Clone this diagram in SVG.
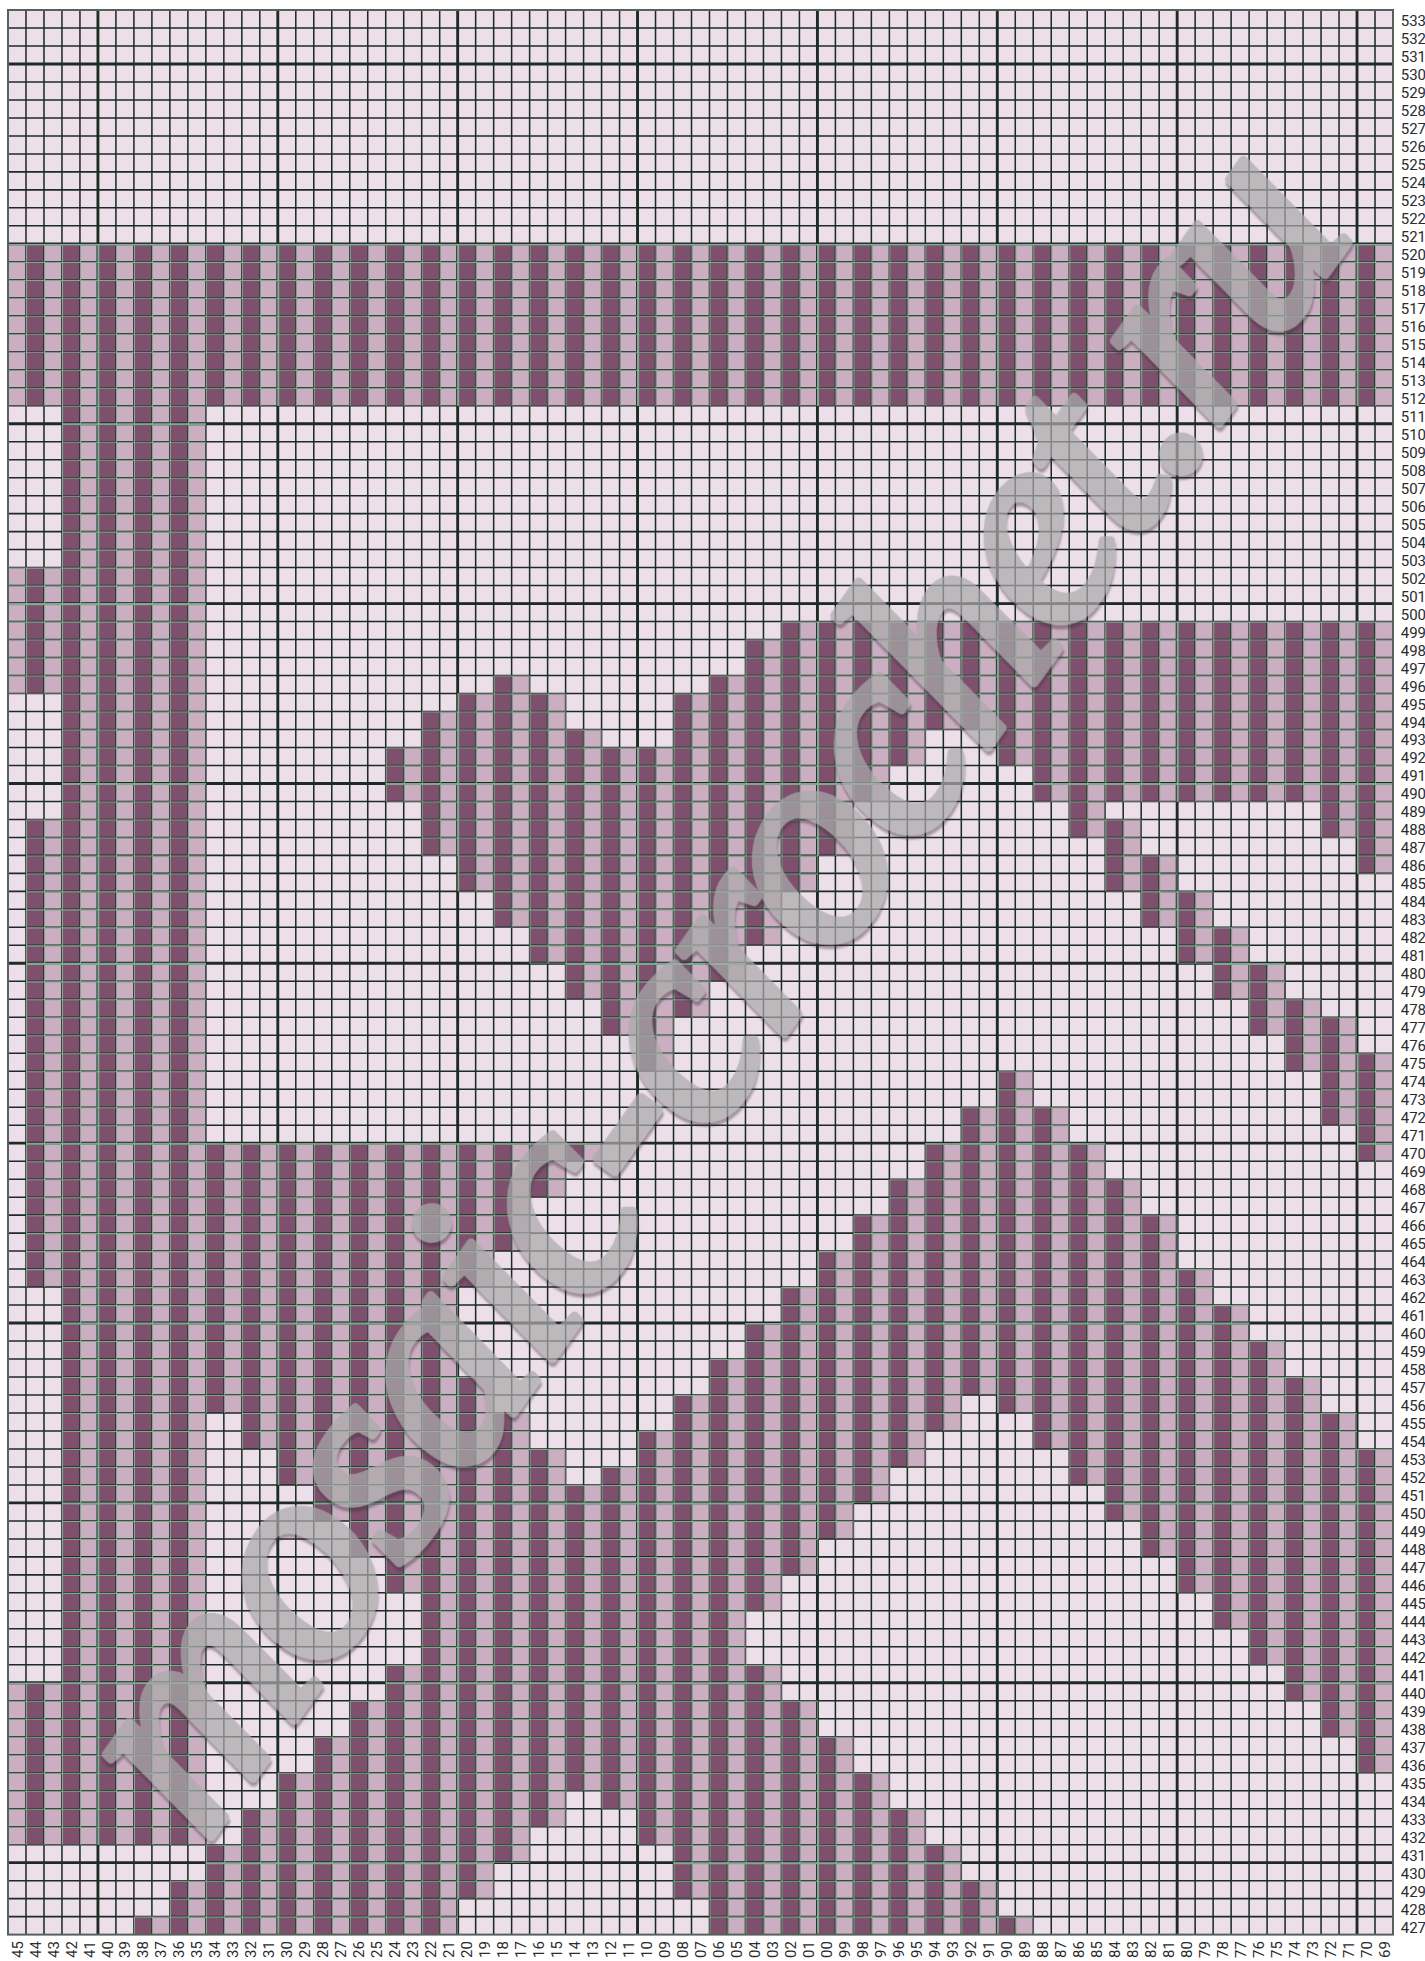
<svg xmlns="http://www.w3.org/2000/svg" xmlns:xlink="http://www.w3.org/1999/xlink" width="1425" height="1961" viewBox="0 0 1425 1961">
<style>
.thin{fill:none;stroke:#1c2b24;stroke-width:.085}
.thick{fill:none;stroke:#1c2b24;stroke-width:.16}
.gthin{fill:none;stroke:#7fa98f;stroke-width:.06}
.gthick{fill:none;stroke:#7fa98f;stroke-width:.115}
.lab text{font-family:Roboto,"Liberation Sans",sans-serif;font-size:.834px;fill:#2b2b2b}
.wm{font-family:"Liberation Serif",serif;font-style:italic;font-size:290px;fill:#aaaaaa;stroke:#aaaaaa;stroke-width:9;stroke-linejoin:round;opacity:.72}
</style>
<defs>
<path id="grid" d="M1 0V107M2 0V107M3 0V107M4 0V107M5 0V107M6 0V107M7 0V107M8 0V107M9 0V107M10 0V107M11 0V107M12 0V107M13 0V107M14 0V107M15 0V107M16 0V107M17 0V107M18 0V107M19 0V107M20 0V107M21 0V107M22 0V107M23 0V107M24 0V107M25 0V107M26 0V107M27 0V107M28 0V107M29 0V107M30 0V107M31 0V107M32 0V107M33 0V107M34 0V107M35 0V107M36 0V107M37 0V107M38 0V107M39 0V107M40 0V107M41 0V107M42 0V107M43 0V107M44 0V107M45 0V107M46 0V107M47 0V107M48 0V107M49 0V107M50 0V107M51 0V107M52 0V107M53 0V107M54 0V107M55 0V107M56 0V107M57 0V107M58 0V107M59 0V107M60 0V107M61 0V107M62 0V107M63 0V107M64 0V107M65 0V107M66 0V107M67 0V107M68 0V107M69 0V107M70 0V107M71 0V107M72 0V107M73 0V107M74 0V107M75 0V107M76 0V107M0 1H77M0 2H77M0 3H77M0 4H77M0 5H77M0 6H77M0 7H77M0 8H77M0 9H77M0 10H77M0 11H77M0 12H77M0 13H77M0 14H77M0 15H77M0 16H77M0 17H77M0 18H77M0 19H77M0 20H77M0 21H77M0 22H77M0 23H77M0 24H77M0 25H77M0 26H77M0 27H77M0 28H77M0 29H77M0 30H77M0 31H77M0 32H77M0 33H77M0 34H77M0 35H77M0 36H77M0 37H77M0 38H77M0 39H77M0 40H77M0 41H77M0 42H77M0 43H77M0 44H77M0 45H77M0 46H77M0 47H77M0 48H77M0 49H77M0 50H77M0 51H77M0 52H77M0 53H77M0 54H77M0 55H77M0 56H77M0 57H77M0 58H77M0 59H77M0 60H77M0 61H77M0 62H77M0 63H77M0 64H77M0 65H77M0 66H77M0 67H77M0 68H77M0 69H77M0 70H77M0 71H77M0 72H77M0 73H77M0 74H77M0 75H77M0 76H77M0 77H77M0 78H77M0 79H77M0 80H77M0 81H77M0 82H77M0 83H77M0 84H77M0 85H77M0 86H77M0 87H77M0 88H77M0 89H77M0 90H77M0 91H77M0 92H77M0 93H77M0 94H77M0 95H77M0 96H77M0 97H77M0 98H77M0 99H77M0 100H77M0 101H77M0 102H77M0 103H77M0 104H77M0 105H77M0 106H77"/>
<path id="major" d="M5 0V107M15 0V107M25 0V107M35 0V107M45 0V107M55 0V107M65 0V107M75 0V107M0 3H77M0 13H77M0 23H77M0 33H77M0 43H77M0 53H77M0 63H77M0 73H77M0 83H77M0 93H77M0 103H77"/>
<clipPath id="filled"><path d="M0 13H77V22H0z
M0 31h1v7h-1zM0 93h1v9h-1z
M1 31h2v7h-2zM1 45h2v26h-2zM1 93h2v9h-2z
M3 22h2v80h-2z
M5 22h2v80h-2z
M7 22h2v80h-2zM7 106h2v1h-2z
M9 22h2v80h-2zM9 104h2v3h-2z
M11 63h2v15h-2zM11 102h2v5h-2z
M13 63h2v17h-2zM13 100h2v7h-2z
M15 63h2v19h-2zM15 98h2v9h-2z
M17 63h2v21h-2zM17 96h2v11h-2z
M19 63h2v23h-2zM19 94h2v13h-2z
M21 41h2v3h-2zM21 63h2v25h-2zM21 92h2v15h-2z
M23 39h2v8h-2zM23 63h2v44h-2z
M25 38h2v11h-2zM25 63h2v8h-2zM25 76h2v29h-2z
M27 37h2v14h-2zM27 63h2v6h-2zM27 78h2v25h-2z
M29 38h2v15h-2zM29 63h2v3h-2zM29 80h2v21h-2z
M31 40h2v15h-2zM31 63h2v1h-2zM31 82h2v17h-2z
M33 41h2v16h-2zM33 81h2v19h-2z
M35 41h2v18h-2zM35 79h2v23h-2z
M37 38h2v18h-2zM37 77h2v28h-2z
M39 37h2v17h-2zM39 75h2v32h-2z
M41 35h2v17h-2zM41 73h2v16h-2zM41 92h2v15h-2z
M43 34h2v15h-2zM43 71h2v16h-2zM43 94h2v13h-2z
M45 34h2v13h-2zM45 69h2v16h-2zM45 96h2v11h-2z
M47 34h2v10h-2zM47 67h2v16h-2zM47 98h2v9h-2z
M49 34h2v8h-2zM49 65h2v16h-2zM49 100h2v7h-2z
M51 34h2v6h-2zM51 63h2v16h-2zM51 102h2v5h-2z
M53 34h2v6h-2zM53 61h2v16h-2zM53 104h2v3h-2z
M55 34h2v8h-2zM55 59h2v19h-2zM55 106h2v1h-2z
M57 34h2v10h-2zM57 61h2v19h-2z
M59 34h2v12h-2zM59 63h2v19h-2z
M61 34h2v10h-2zM61 45h2v4h-2zM61 65h2v19h-2z
M63 34h2v10h-2zM63 47h2v4h-2zM63 67h2v19h-2z
M65 34h2v10h-2zM65 49h2v4h-2zM65 70h2v18h-2z
M67 34h2v10h-2zM67 51h2v4h-2zM67 72h2v18h-2z
M69 34h2v10h-2zM69 53h2v4h-2zM69 74h2v18h-2z
M71 34h2v10h-2zM71 55h2v4h-2zM71 76h2v18h-2z
M73 34h2v12h-2zM73 56h2v6h-2zM73 78h2v18h-2z
M75 34h2v14h-2zM75 58h2v6h-2zM75 80h2v18h-2z"/></clipPath>
<filter id="wmf" x="-10%" y="-10%" width="120%" height="120%"><feDropShadow dx="-3" dy="3" stdDeviation="1" flood-color="#3f2f3a" flood-opacity=".6"/></filter>
</defs>
<rect width="1425" height="1961" fill="#ffffff"/>
<g id="chart" transform="translate(8 10) scale(17.987)">
<rect id="ground" width="77" height="107" fill="#ecdfe9"/>
<use xlink:href="#grid" class="thin"/>
<use xlink:href="#major" class="thick"/>
<g id="stitches" clip-path="url(#filled)">
<rect width="77" height="107" fill="#ccaec3"/>
<path d="M1 53.5H77" fill="none" stroke="#7e506e" stroke-width="107" stroke-dasharray="1 1"/>
<use xlink:href="#grid" class="thin"/>
<use xlink:href="#major" class="thick"/>
<g transform="translate(.03 .03)">
<use xlink:href="#grid" class="gthin"/>
<use xlink:href="#major" class="gthick"/>
</g>
</g>
<rect id="frame" width="77" height="107" fill="none" stroke="#56615b" stroke-width=".11"/>
<g id="row-labels" class="lab">
<text x="77.43" y=".89">533</text><text x="77.43" y="1.89">532</text><text x="77.43" y="2.89">531</text><text x="77.43" y="3.89">530</text><text x="77.43" y="4.89">529</text><text x="77.43" y="5.89">528</text><text x="77.43" y="6.89">527</text><text x="77.43" y="7.89">526</text><text x="77.43" y="8.89">525</text><text x="77.43" y="9.89">524</text><text x="77.43" y="10.89">523</text><text x="77.43" y="11.89">522</text><text x="77.43" y="12.89">521</text><text x="77.43" y="13.89">520</text><text x="77.43" y="14.89">519</text><text x="77.43" y="15.89">518</text><text x="77.43" y="16.89">517</text><text x="77.43" y="17.89">516</text><text x="77.43" y="18.89">515</text><text x="77.43" y="19.89">514</text><text x="77.43" y="20.89">513</text><text x="77.43" y="21.89">512</text><text x="77.43" y="22.89">511</text><text x="77.43" y="23.89">510</text><text x="77.43" y="24.89">509</text><text x="77.43" y="25.89">508</text><text x="77.43" y="26.89">507</text><text x="77.43" y="27.89">506</text><text x="77.43" y="28.89">505</text><text x="77.43" y="29.89">504</text><text x="77.43" y="30.89">503</text><text x="77.43" y="31.89">502</text><text x="77.43" y="32.89">501</text><text x="77.43" y="33.89">500</text><text x="77.43" y="34.89">499</text><text x="77.43" y="35.89">498</text><text x="77.43" y="36.89">497</text><text x="77.43" y="37.89">496</text><text x="77.43" y="38.89">495</text><text x="77.43" y="39.89">494</text><text x="77.43" y="40.89">493</text><text x="77.43" y="41.89">492</text><text x="77.43" y="42.89">491</text><text x="77.43" y="43.89">490</text><text x="77.43" y="44.89">489</text><text x="77.43" y="45.89">488</text><text x="77.43" y="46.89">487</text><text x="77.43" y="47.89">486</text><text x="77.43" y="48.89">485</text><text x="77.43" y="49.89">484</text><text x="77.43" y="50.89">483</text><text x="77.43" y="51.89">482</text><text x="77.43" y="52.89">481</text><text x="77.43" y="53.89">480</text><text x="77.43" y="54.89">479</text><text x="77.43" y="55.89">478</text><text x="77.43" y="56.89">477</text><text x="77.43" y="57.89">476</text><text x="77.43" y="58.89">475</text><text x="77.43" y="59.89">474</text><text x="77.43" y="60.89">473</text><text x="77.43" y="61.89">472</text><text x="77.43" y="62.89">471</text><text x="77.43" y="63.89">470</text><text x="77.43" y="64.89">469</text><text x="77.43" y="65.89">468</text><text x="77.43" y="66.89">467</text><text x="77.43" y="67.89">466</text><text x="77.43" y="68.89">465</text><text x="77.43" y="69.89">464</text><text x="77.43" y="70.89">463</text><text x="77.43" y="71.89">462</text><text x="77.43" y="72.89">461</text><text x="77.43" y="73.89">460</text><text x="77.43" y="74.89">459</text><text x="77.43" y="75.89">458</text><text x="77.43" y="76.89">457</text><text x="77.43" y="77.89">456</text><text x="77.43" y="78.89">455</text><text x="77.43" y="79.89">454</text><text x="77.43" y="80.89">453</text><text x="77.43" y="81.89">452</text><text x="77.43" y="82.89">451</text><text x="77.43" y="83.89">450</text><text x="77.43" y="84.89">449</text><text x="77.43" y="85.89">448</text><text x="77.43" y="86.89">447</text><text x="77.43" y="87.89">446</text><text x="77.43" y="88.89">445</text><text x="77.43" y="89.89">444</text><text x="77.43" y="90.89">443</text><text x="77.43" y="91.89">442</text><text x="77.43" y="92.89">441</text><text x="77.43" y="93.89">440</text><text x="77.43" y="94.89">439</text><text x="77.43" y="95.89">438</text><text x="77.43" y="96.89">437</text><text x="77.43" y="97.89">436</text><text x="77.43" y="98.89">435</text><text x="77.43" y="99.89">434</text><text x="77.43" y="100.89">433</text><text x="77.43" y="101.89">432</text><text x="77.43" y="102.89">431</text><text x="77.43" y="103.89">430</text><text x="77.43" y="104.89">429</text><text x="77.43" y="105.89">428</text><text x="77.43" y="106.89">427</text>
</g>
<g id="column-labels" class="lab" transform="rotate(-90)">
<text x="-108.3" y=".81">45</text><text x="-108.3" y="1.81">44</text><text x="-108.3" y="2.81">43</text><text x="-108.3" y="3.81">42</text><text x="-108.3" y="4.81">41</text><text x="-108.3" y="5.81">40</text><text x="-108.3" y="6.81">39</text><text x="-108.3" y="7.81">38</text><text x="-108.3" y="8.81">37</text><text x="-108.3" y="9.81">36</text><text x="-108.3" y="10.81">35</text><text x="-108.3" y="11.81">34</text><text x="-108.3" y="12.81">33</text><text x="-108.3" y="13.81">32</text><text x="-108.3" y="14.81">31</text><text x="-108.3" y="15.81">30</text><text x="-108.3" y="16.81">29</text><text x="-108.3" y="17.81">28</text><text x="-108.3" y="18.81">27</text><text x="-108.3" y="19.81">26</text><text x="-108.3" y="20.81">25</text><text x="-108.3" y="21.81">24</text><text x="-108.3" y="22.81">23</text><text x="-108.3" y="23.81">22</text><text x="-108.3" y="24.81">21</text><text x="-108.3" y="25.81">20</text><text x="-108.3" y="26.81">19</text><text x="-108.3" y="27.81">18</text><text x="-108.3" y="28.81">17</text><text x="-108.3" y="29.81">16</text><text x="-108.3" y="30.81">15</text><text x="-108.3" y="31.81">14</text><text x="-108.3" y="32.81">13</text><text x="-108.3" y="33.81">12</text><text x="-108.3" y="34.81">11</text><text x="-108.3" y="35.81">10</text><text x="-108.3" y="36.81">09</text><text x="-108.3" y="37.81">08</text><text x="-108.3" y="38.81">07</text><text x="-108.3" y="39.81">06</text><text x="-108.3" y="40.81">05</text><text x="-108.3" y="41.81">04</text><text x="-108.3" y="42.81">03</text><text x="-108.3" y="43.81">02</text><text x="-108.3" y="44.81">01</text><text x="-108.3" y="45.81">00</text><text x="-108.3" y="46.81">99</text><text x="-108.3" y="47.81">98</text><text x="-108.3" y="48.81">97</text><text x="-108.3" y="49.81">96</text><text x="-108.3" y="50.81">95</text><text x="-108.3" y="51.81">94</text><text x="-108.3" y="52.81">93</text><text x="-108.3" y="53.81">92</text><text x="-108.3" y="54.81">91</text><text x="-108.3" y="55.81">90</text><text x="-108.3" y="56.81">89</text><text x="-108.3" y="57.81">88</text><text x="-108.3" y="58.81">87</text><text x="-108.3" y="59.81">86</text><text x="-108.3" y="60.81">85</text><text x="-108.3" y="61.81">84</text><text x="-108.3" y="62.81">83</text><text x="-108.3" y="63.81">82</text><text x="-108.3" y="64.81">81</text><text x="-108.3" y="65.81">80</text><text x="-108.3" y="66.81">79</text><text x="-108.3" y="67.81">78</text><text x="-108.3" y="68.81">77</text><text x="-108.3" y="69.81">76</text><text x="-108.3" y="70.81">75</text><text x="-108.3" y="71.81">74</text><text x="-108.3" y="72.81">73</text><text x="-108.3" y="73.81">72</text><text x="-108.3" y="74.81">71</text><text x="-108.3" y="75.81">70</text><text x="-108.3" y="76.81">69</text>
</g>
</g>
<text id="watermark" class="wm" filter="url(#wmf)" transform="translate(205 1845) rotate(-54.5)" textLength="1985">mosaic-crochet.ru</text>
</svg>
